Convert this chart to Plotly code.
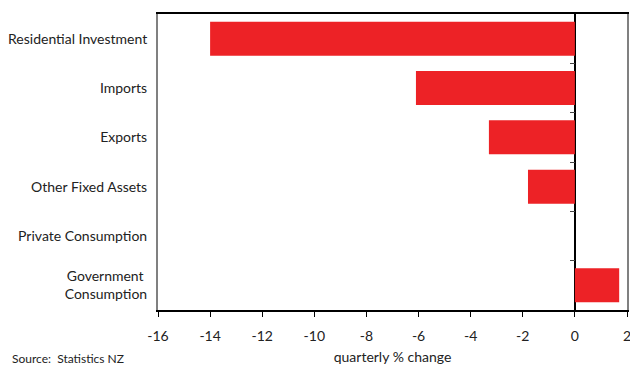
import plotly.graph_objects as go

categories = ["Residential Investment", "Imports", "Exports", "Other Fixed Assets",
              "Private Consumption", "Government <br>Consumption"]
values = [-14.0, -6.1, -3.3, -1.8, 0.0, 1.7]
x_ticks = [-16, -14, -12, -10, -8, -6, -4, -2, 0, 2]
x_tick_labels = ["-16", "-14", "-12", "-10", "-8", "-6", "-4", "-2", "0", "2"]

FONT = "Lato"
fig = go.Figure()
fig.add_trace(go.Bar(
    x=values, y=categories, orientation="h",
    marker=dict(color="#ED2226", line=dict(width=0)),
    width=0.69, showlegend=False, hoverinfo="skip",
))
# helper trace for the zero axis ticks
fig.add_trace(go.Scatter(x=[0], y=[0], yaxis="y2", mode="markers",
                         marker=dict(opacity=0), showlegend=False, hoverinfo="skip"))

fig.update_layout(
    width=630, height=365,
    margin=dict(l=158, r=3, t=14, b=55),
    plot_bgcolor="white", paper_bgcolor="white",
    font=dict(family=FONT, size=14, color="#222"),
    xaxis=dict(range=[-16, 2], tickvals=x_ticks, ticktext=x_tick_labels,
               ticks="outside", ticklen=5, automargin=False, ticklabeloverflow="allow",
               tickcolor="black", showline=True, linecolor="black", linewidth=1.5,
               mirror=True, showgrid=False, zeroline=True, zerolinecolor="black",
               zerolinewidth=1.5, tickfont=dict(size=14), ticklabelstandoff=7,
               title=dict(text="quarterly % change", font=dict(size=14), standoff=12)),
    yaxis=dict(categoryorder="array", categoryarray=categories, autorange="reversed",
               showline=True, linecolor="#808080", linewidth=2, mirror=True,
               automargin=False,
               ticks="", showgrid=False, ticklabelstandoff=6, tickfont=dict(size=14)),
    yaxis2=dict(overlaying="y", anchor="free", position=(0 + 16) / 18, range=[6, 0],
                tickvals=[1, 2, 3, 4, 5], ticks="outside", ticklen=5, tickcolor="#444",
                showticklabels=False, showline=False, showgrid=False, zeroline=False,
                side="left", automargin=False),
    annotations=[dict(text="Source:  Statistics NZ", xref="paper", yref="paper",
                      x=-148 / 469, y=0, yshift=-55 - 3, xanchor="left",
                      yanchor="bottom", showarrow=False, font=dict(size=12))],
)
fig.write_html("out.html")
